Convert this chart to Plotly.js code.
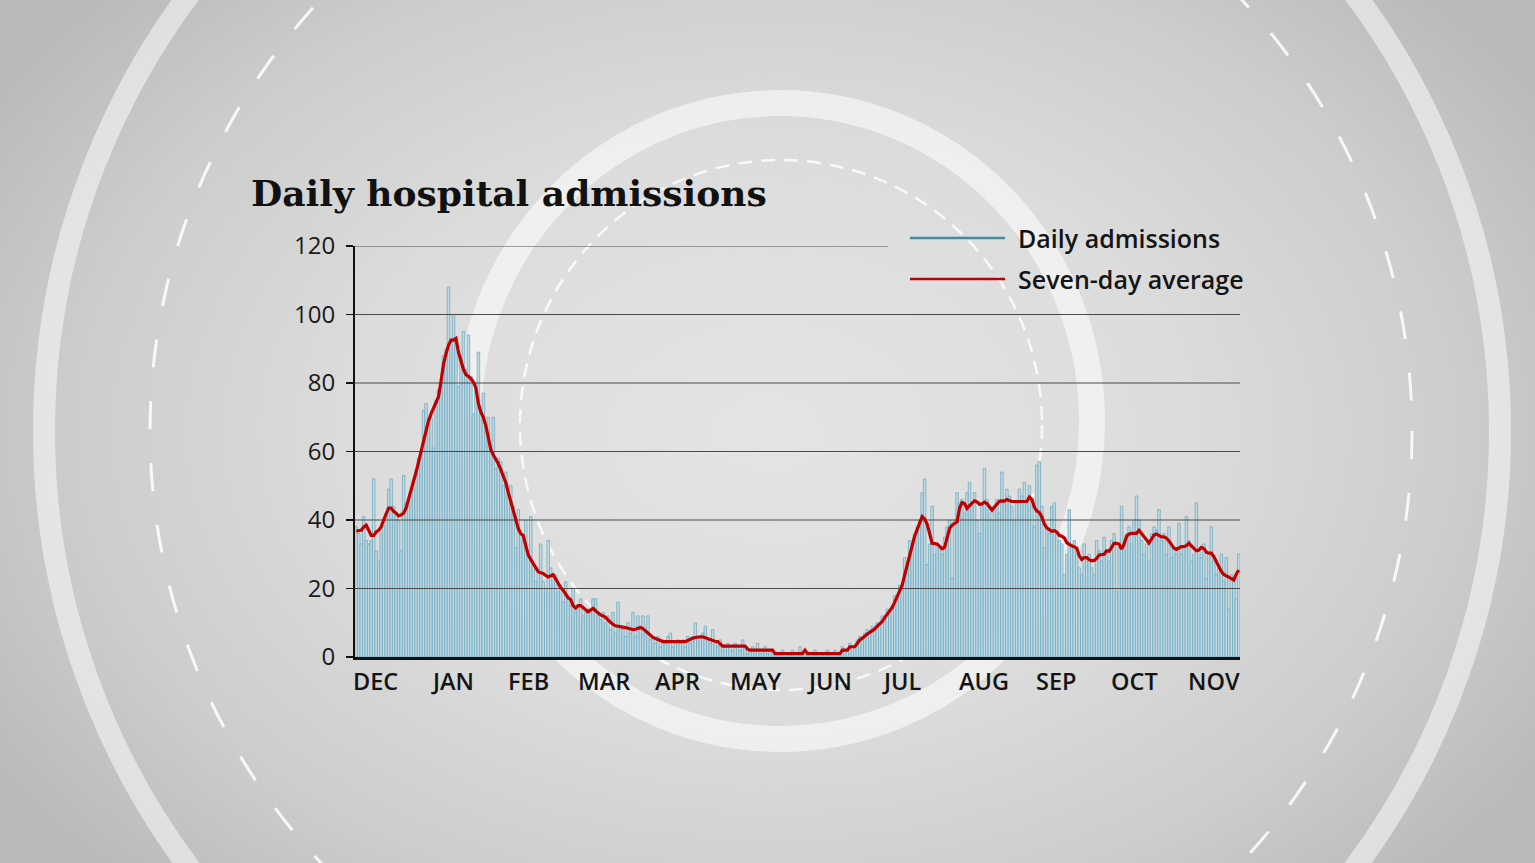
<!DOCTYPE html>
<html>
<head>
<meta charset="utf-8">
<script src="https://cdn.plot.ly/plotly-3.0.1.min.js"></script>
<style>
  html, body { margin: 0; padding: 0; width: 1535px; height: 863px; overflow: hidden; }
  body { background: radial-gradient(ellipse 60% 75% at 50% 50%, #e4e4e4 0%, #dcdcdc 45%, #cdcdcd 75%, #b9b9b9 100%); }
  #chart { width: 1535px; height: 863px; }
</style>
</head>
<body>
<div id="chart"></div>
<script>
// ---- Data ----
const startDate = '2020-12-01';
const chartTitle = 'Daily hospital admissions';
const seriesNames = ['Daily admissions', 'Seven-day average'];

const dailyAdmissions = [
  38,36,33,41,34,33,34,52,31,28,
  36,38,42,49,52,44,42,40,31,53,
  45,44,47,49,54,58,60,72,74,68,
  70,61,75,78,80,88,90,108,92,100,
  93,79,88,95,84,94,82,71,80,89,
  72,77,66,70,60,70,55,58,57,50,
  54,48,50,44,32,43,36,34,40,30,
  41,27,22,26,33,22,20,34,26,24,
  24,19,20,16,22,17,15,20,13,14,
  17,12,13,14,13,17,17,12,11,13,
  10,12,8,13,7,16,9,8,6,10,
  7,13,6,12,8,12,7,12,5,6,
  4,6,3,5,4,6,7,3,4,5,
  4,5,3,6,4,6,10,5,6,7,
  9,5,4,8,4,3,5,2,3,4,
  3,2,4,3,2,5,3,1,2,3,
  2,4,1,2,3,1,2,2,1,0,
  1,2,0,1,1,2,1,0,3,1,
  2,1,0,1,2,1,0,1,1,2,
  1,0,2,1,1,3,2,2,4,3,
  3,5,6,5,7,8,7,9,8,10,
  9,12,11,14,12,15,18,17,21,20,
  29,26,34,30,36,38,40,48,52,27,
  33,44,30,33,32,30,35,38,40,23,
  40,48,45,46,42,48,51,44,48,40,
  36,44,55,46,42,40,44,46,42,54,
  46,49,47,44,40,45,49,47,51,45,
  50,44,38,56,57,44,32,38,36,44,
  45,36,34,33,24,30,43,32,34,30,
  26,24,33,28,30,26,24,34,31,28,
  35,30,28,34,36,19,32,44,33,36,
  38,33,40,47,40,34,30,33,28,36,
  38,37,43,34,36,30,38,29,32,30,
  39,30,32,41,34,28,30,45,31,29,
  33,23,30,38,28,24,26,30,22,29,
  14,24,22,17,30
];

const sevenDayAverage = [
  36.8,37,37,38,38.5,37,35.5,35.5,36.5,37,
  38,40,42,43.5,43.5,42.5,42,41.2,41.5,42,
  43.5,46,48.2,51,54,57,60.2,63,66,69,
  71,72.5,74,76,80.5,85.5,88.5,91,92.5,92.5,
  93,89,86.5,84,82.5,82,81.3,80.3,78.5,74,
  71.5,70,67.5,64,60.5,59,57.8,56.4,54.7,53,
  50.9,48,45.4,42.7,40,37.5,36,35.5,32.5,29.8,
  28.5,27.2,26,24.9,24.6,24.4,23.8,23.4,23.7,24,
  22.8,21.4,20.3,19.5,18.2,17.3,16.8,15,14.3,15,
  15,14.5,13.8,13.2,13.8,14.2,13.5,12.8,12.3,12,
  11.6,10.8,10,9.5,9.1,9,9,8.8,8.6,8.4,
  8.2,8,8.1,8.3,8.6,8.3,7.6,7,6.2,5.7,
  5.4,5.2,4.8,4.5,4.5,4.5,4.5,4.5,4.5,4.5,
  4.5,4.5,4.5,4.8,5.2,5.5,5.7,5.9,5.9,5.9,
  5.6,5.2,5,4.8,4.6,4.5,3.8,3.2,3.2,3.2,
  3.2,3.2,3.2,3.2,3.2,3.2,3.2,2.3,2,2,
  2,2,2,2,2,2,2,2,1,1,
  1,1,1,1,1,1,1,1,1,1,
  2,1,1,1,1,1,1,1,1,1,
  1,1,1,1,1,2,2,2,3,3,
  3,4,5,5.5,6.2,6.7,7.2,7.7,8.2,9,
  9.7,10.4,11.5,12.4,13.4,14.5,16,17.8,19.3,21,
  24,27,29.5,32.5,35.3,37.2,39,41,40.3,38.8,
  36,33.2,33.1,33,32.3,31.6,32,35,37.5,38.5,
  39.1,39.5,43.5,45.1,44.8,43.4,44.2,44.9,45.6,45.3,
  44.6,44.7,45.2,44.8,43.8,42.9,43.8,44.6,45.5,45.6,
  45.5,46,45.7,45.4,45.4,45.4,45.4,45.4,45.4,45.4,
  46.7,46,43.8,42.6,42.2,40.9,38.9,37.7,37.2,36.7,
  36.9,36.5,35.5,35.3,34.8,33.4,32.9,32.5,32.1,31.8,
  29.6,28.5,29,29,28.4,28.1,28.2,28.8,29.8,30,
  30,31,30.9,32,33.2,33.2,33,31.5,33,35.2,
  35.9,36.1,36.1,36.1,37,36,35,34.1,33.3,34.4,
  35.6,35.9,35.4,35.1,35.1,34.7,33.9,32.8,31.8,31.4,
  31.9,32.2,32.2,32.5,33.2,32.4,31.7,31,31.2,32,
  31.7,30.6,30.3,30.3,29.3,27.8,26.3,25,24.1,23.8,
  23.3,22.9,22.5,24.2,25.4
];

const monthStarts = ['2020-12-01','2021-01-01','2021-02-01','2021-03-01','2021-04-01','2021-05-01',
                     '2021-06-01','2021-07-01','2021-08-01','2021-09-01','2021-10-01','2021-11-01'];
const monthLabels = ['DEC','JAN','FEB','MAR','APR','MAY','JUN','JUL','AUG','SEP','OCT','NOV'];
const yTicks = [0, 20, 40, 60, 80, 100, 120];

// ---- Build dates ----
const dates = dailyAdmissions.map((_, i) => {
  const d = new Date(startDate + 'T00:00:00Z');
  d.setUTCDate(d.getUTCDate() + i);
  return d.toISOString().slice(0, 10);
});
const xStart = '2020-11-30 12:00';
const xEnd = '2021-11-20 12:00';
const topGridEnd = '2021-07-02 08:00';

// gridlines from tick array
const gx = [], gy = [];
yTicks.filter(v => v > 0).forEach(v => {
  gx.push(xStart, v === 120 ? topGridEnd : xEnd, null);
  gy.push(v, v, null);
});

const teal = '#3e8ca6';
const red = '#c00000';

const traces = [
  {
    type: 'bar', x: dates, y: dailyAdmissions, name: seriesNames[0],
    marker: { color: 'rgba(190,218,228,0.92)', line: { color: '#74a9bf', width: 0.8 } },
    hoverinfo: 'skip'
  },
  {
    type: 'scatter', mode: 'lines', x: gx, y: gy, showlegend: false,
    line: { color: '#4a4a4a', width: 1 }, hoverinfo: 'skip', connectgaps: false
  },
  {
    type: 'scatter', mode: 'lines', x: dates, y: sevenDayAverage, name: seriesNames[1],
    line: { color: red, width: 3.2 }, hoverinfo: 'skip'
  }
];

const annotations = monthLabels.map((lab, i) => ({
  text: lab, x: monthStarts[i], xref: 'x', y: -0.058, yref: 'paper', xshift: -5,
  xanchor: 'left', yanchor: 'middle', showarrow: false,
  font: { family: 'Open Sans', size: 23.5, color: '#141414', weight: 600 }
}));
annotations.push(
  { text: seriesNames[0], x: 0.7469, y: 1.0195, xref: 'paper', yref: 'paper', xanchor: 'left', yanchor: 'middle',
    showarrow: false, font: { family: 'Open Sans', size: 25, color: '#141414', weight: 600 } },
  { text: seriesNames[1], x: 0.7469, y: 0.9197, xref: 'paper', yref: 'paper', xanchor: 'left', yanchor: 'middle',
    showarrow: false, font: { family: 'Open Sans', size: 25, color: '#141414', weight: 600 } }
);

const shapes = [
  // outer white ring
  { type: 'circle', xref: 'paper', yref: 'paper', layer: 'below',
    x0: -0.3514, x1: 1.2938, y0: -1.2214, y1: 2.3212,
    line: { color: 'rgba(255,255,255,0.5)', width: 22 } },
  // outer dashed ring
  { type: 'circle', xref: 'paper', yref: 'paper', layer: 'below',
    x0: -0.2316, x1: 1.1944, y0: -0.9854, y1: 2.0852,
    line: { color: 'rgba(255,255,255,0.85)', width: 3, dash: '28px,34px' } },
  // middle white ring
  { type: 'circle', xref: 'paper', yref: 'paper', layer: 'below',
    x0: 0.1277, x1: 0.8328, y0: -0.1995, y1: 1.3479,
    line: { color: 'rgba(255,255,255,0.55)', width: 26 } },
  // inner dashed ring
  { type: 'circle', xref: 'paper', yref: 'paper', layer: 'below',
    x0: 0.1864, x1: 0.7763, y0: -0.0803, y1: 1.2092,
    line: { color: 'rgba(255,255,255,0.8)', width: 2.5, dash: '14px,9px' } },
  // legend lines
  { type: 'line', xref: 'paper', yref: 'paper', x0: 0.6271, x1: 0.7345, y0: 1.0195, y1: 1.0195,
    line: { color: teal, width: 2.5 } },
  { type: 'line', xref: 'paper', yref: 'paper', x0: 0.6271, x1: 0.7345, y0: 0.9197, y1: 0.9197,
    line: { color: red, width: 2.5 } }
];

const layout = {
  width: 1535, height: 863,
  margin: { l: 355, r: 295, t: 246, b: 206 },
  paper_bgcolor: 'rgba(0,0,0,0)',
  plot_bgcolor: 'rgba(0,0,0,0)',
  showlegend: false,
  bargap: 0,
  title: {
    text: chartTitle,
    font: { family: 'DejaVu Serif', size: 36, color: '#111111', weight: 700 },
    xref: 'container', x: 251 / 1535, xanchor: 'left',
    yref: 'container', y: 1 - 193 / 863, yanchor: 'middle'
  },
  xaxis: {
    type: 'date', range: [xStart, xEnd],
    showticklabels: false, ticks: '', showgrid: false, zeroline: false,
    showline: true, linecolor: '#111111', linewidth: 2.5
  },
  yaxis: {
    range: [0, 120], tickvals: yTicks, ticktext: yTicks.map(String),
    ticks: 'outside', ticklen: 7, tickwidth: 1.5, tickcolor: '#111111',
    showgrid: false, zeroline: false,
    showline: true, linecolor: '#111111', linewidth: 2,
    tickfont: { family: 'Open Sans', size: 24, color: '#1a1a1a' },
    ticklabelstandoff: 6
  },
  annotations: annotations,
  shapes: shapes
};

Plotly.newPlot('chart', traces, layout, { staticPlot: true, displayModeBar: false });
</script>
</body>
</html>
